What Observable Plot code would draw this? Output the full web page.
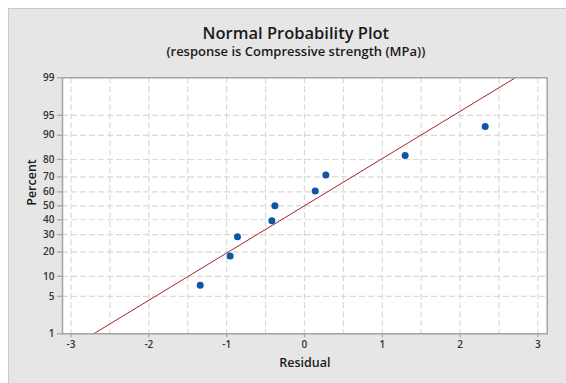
<!DOCTYPE html>
<html>
<head>
<meta charset="utf-8">
<script src="https://cdn.jsdelivr.net/npm/d3@7"></script>
<script src="https://cdn.jsdelivr.net/npm/@observablehq/plot@0.6"></script>
<style>
  html, body { margin: 0; padding: 0; background: #ffffff; }
  #wrap { position: relative; width: 566px; height: 383px; overflow: hidden; }
  #panel { position: absolute; left: 8px; top: 8px; width: 570px; height: 390px;
           background: #e6e6e6; border: 1px solid #c9c9c9; box-sizing: border-box; }
  #chart { position: absolute; left: 0; top: 0; }
</style>
</head>
<body>
<div id="wrap"><div id="panel"></div><div id="chart"></div></div>
<script>
// ---- data ----
const residuals = [-1.34, -0.955, -0.861, -0.419, -0.380, 0.138, 0.275, 1.294, 2.323];
const percents  = [7.45, 18.09, 28.72, 39.36, 50, 60.64, 71.28, 81.91, 92.55];
const fitResidual = [-2.71, 2.71];
const fitPercent  = [1, 99];
const xTicks = [-3, -2, -1, 0, 1, 2, 3];
const xGrid  = [-3, -2.5, -2, -1.5, -1, -0.5, 0, 0.5, 1, 1.5, 2, 2.5, 3];
const yTicks = [1, 5, 10, 20, 30, 40, 50, 60, 70, 80, 90, 95, 99];
const yGrid  = [5, 10, 20, 30, 40, 50, 60, 70, 80, 90, 95];
const title = "Normal Probability Plot";
const subtitle = "(response is Compressive strength (MPa))";

// inverse standard normal CDF (Acklam) for the probability scale
function qnorm(p) {
  const a = [-3.969683028665376e+01, 2.209460984245205e+02, -2.759285104469687e+02, 1.383577518672690e+02, -3.066479806614716e+01, 2.506628277459239e+00];
  const b = [-5.447609879822406e+01, 1.615858368580409e+02, -1.556989798598866e+02, 6.680131188771972e+01, -1.328068155288572e+01];
  const c = [-7.784894002430293e-03, -3.223964580411365e-01, -2.400758277161838e+00, -2.549732539343734e+00, 4.374664141464968e+00, 2.938163982698783e+00];
  const d = [7.784695709041462e-03, 3.224671290700398e-01, 2.445134137142996e+00, 3.754408661907416e+00];
  const pl = 0.02425, ph = 1 - pl;
  let q, r;
  if (p < pl) { q = Math.sqrt(-2 * Math.log(p));
    return (((((c[0]*q+c[1])*q+c[2])*q+c[3])*q+c[4])*q+c[5]) / ((((d[0]*q+d[1])*q+d[2])*q+d[3])*q+1); }
  if (p <= ph) { q = p - 0.5; r = q*q;
    return (((((a[0]*r+a[1])*r+a[2])*r+a[3])*r+a[4])*r+a[5])*q / (((((b[0]*r+b[1])*r+b[2])*r+b[3])*r+b[4])*r+1); }
  q = Math.sqrt(-2 * Math.log(1 - p));
  return -(((((c[0]*q+c[1])*q+c[2])*q+c[3])*q+c[4])*q+c[5]) / ((((d[0]*q+d[1])*q+d[2])*q+d[3])*q+1);
}
const z = p => qnorm(p / 100);

const points = residuals.map((r, i) => ({r, z: z(percents[i])}));
const fit = fitResidual.map((r, i) => ({r, z: z(fitPercent[i])}));
const yTickZ = yTicks.map(z);
const labelOf = new Map(yTickZ.map((v, i) => [v, String(yTicks[i])]));

const font = "'Open Sans', 'Noto Sans', sans-serif";
const gridColor = "#dadada";
const axisColor = "#a3a3a3";

const plot = Plot.plot({
  width: 566,
  height: 383,
  marginLeft: 62,
  marginRight: 19.3,
  marginTop: 77.3,
  marginBottom: 49.7,
  style: { background: "transparent", fontFamily: font, overflow: "visible" },
  x: { domain: [-3.11, 3.12] },
  y: { domain: [z(1), z(99)] },
  marks: [
    Plot.frame({ fill: "white", stroke: null }),
    Plot.ruleX(xGrid, { stroke: gridColor, strokeWidth: 1.2, strokeDasharray: "6,3" }),
    Plot.ruleY(yGrid.map(z), { stroke: gridColor, strokeWidth: 1.2, strokeDasharray: "6,3" }),
    Plot.line(fit, { x: "r", y: "z", stroke: "#a8232a", strokeWidth: 1 }),
    Plot.dot(points, { x: "r", y: "z", r: 3.5, fill: "#0d56a6", stroke: null }),
    Plot.frame({ stroke: axisColor, strokeWidth: 1.5 }),
    Plot.axisX({ ticks: xTicks, tickSize: 4, tickPadding: 3, stroke: axisColor, strokeWidth: 1.2,
      fill: "#333", fontSize: 10, fontWeight: 600, label: null, tickFormat: d => d < 0 ? "-" + Math.abs(d) : String(d) }),
    Plot.axisY({ ticks: yTickZ, tickSize: 5, tickPadding: 3, stroke: axisColor, strokeWidth: 1.2,
      fill: "#333", fontSize: 10, fontWeight: 600, label: null, tickFormat: v => labelOf.get(v) }),
    Plot.text([title], { frameAnchor: "top", lineAnchor: "middle", dx: -9, dy: -44.5, text: d => d, fontSize: 16.5, fill: "#1a1a1a", fontWeight: 600 }),
    Plot.text([subtitle], { frameAnchor: "top", lineAnchor: "middle", dx: -9, dy: -25.5, text: d => d, fontSize: 13, fill: "#1a1a1a", fontWeight: 600 }),
    Plot.text(["Residual"], { frameAnchor: "bottom", lineAnchor: "middle", dy: 29, text: d => d, fontSize: 12.5, fill: "#1a1a1a", fontWeight: 600 }),
    Plot.text(["Percent"], { frameAnchor: "left", lineAnchor: "middle", dx: -30.5, rotate: -90, text: d => d, fontSize: 12.5, fill: "#1a1a1a", fontWeight: 600 })
  ]
});
document.getElementById("chart").appendChild(plot);
</script>
</body>
</html>
